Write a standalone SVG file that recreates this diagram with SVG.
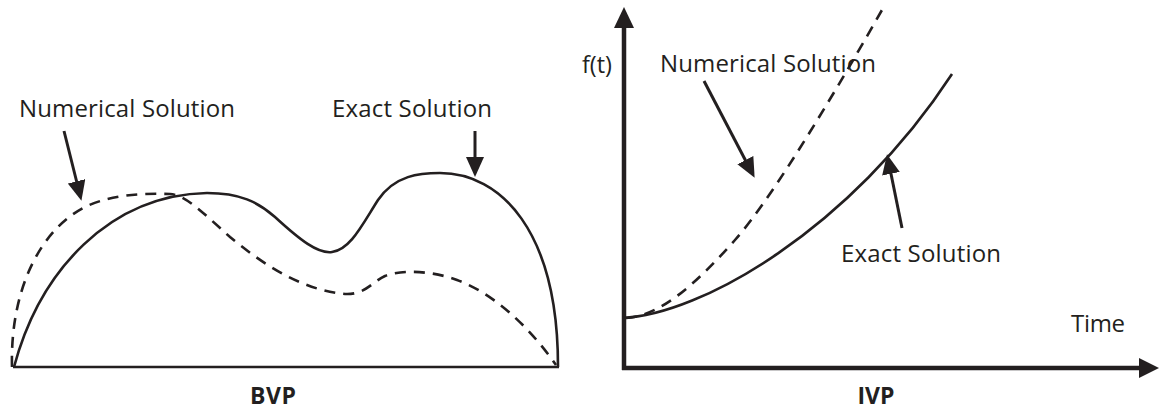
<svg xmlns="http://www.w3.org/2000/svg" width="1159" height="412" viewBox="0 0 1159 412">
<style>
.t{font-family:"Open Sans","Liberation Sans",sans-serif;font-size:24px;fill:#231f20}
.b{font-family:"Open Sans","Liberation Sans",sans-serif;font-size:23px;font-weight:bold;fill:#231f20}
.solid{fill:none;stroke:#231f20;stroke-width:2.6}
.dash{fill:none;stroke:#231f20;stroke-width:2.6;stroke-dasharray:11 8}
.arr{fill:none;stroke:#231f20;stroke-width:3}
.axis{fill:none;stroke:#231f20;stroke-width:4.5}
</style>
<defs>
<marker id="ah" markerUnits="userSpaceOnUse" markerWidth="20" markerHeight="18" viewBox="0 0 20 18" refX="10" refY="9" orient="auto">
<path d="M0,0 L20,9 L0,18 Z" fill="#231f20"/>
</marker>
</defs>
<rect width="1159" height="412" fill="#ffffff"/>
<g id="bvp-panel">
<line x1="13" y1="367" x2="559" y2="367" class="solid"/>
<g id="bvp-exact-curve"><path class="solid" d="M14,367 C40,270 110,195 207,193 C240,193 258,202 275,217 C300,240 318,254 332,252 C350,250 362,225 378,200 C395,175 420,173 440,173 C500,173 558,230 558,367"/></g>
<g id="bvp-numerical-curve"><path class="dash" d="M12,367 C10,290 40,230 85,207 C110,195 140,193 170,194 C185,195 200,210 230,237 C260,262 300,290 345,294 C365,295 372,282 385,276 C400,270 430,270 457,280 C500,296 535,335 556,365"/></g>
<text class="b" x="273" y="404" text-anchor="middle" textLength="46">BVP</text>
</g>
<g id="ivp-panel">
<line x1="624" y1="370" x2="624" y2="24" class="axis"/>
<polygon points="624,7 614,28 634,28" fill="#231f20"/>
<line x1="622" y1="368" x2="1142" y2="368" class="axis"/>
<polygon points="1159,368 1139,358 1139,378" fill="#231f20"/>
<g id="ivp-numerical-curve"><path class="dash" d="M626,318 C660,316 695,285 735,240 C775,195 845,75 882,10"/></g>
<g id="ivp-exact-curve"><path class="solid" d="M622,318 C700,315 850,230 952,74"/></g>
<text class="t" x="582" y="73" textLength="30" lengthAdjust="spacingAndGlyphs">f(t)</text>
<text class="t" x="1071" y="332" textLength="54">Time</text>
<text class="b" x="876" y="404" text-anchor="middle" textLength="37">IVP</text>
</g>
<g id="label-bvp-numerical"><text class="t" x="19" y="117" textLength="216">Numerical Solution</text></g>
<g id="label-bvp-exact"><text class="t" x="332" y="117" textLength="160">Exact Solution</text></g>
<g id="label-ivp-numerical"><text class="t" x="660" y="72" textLength="216">Numerical Solution</text></g>
<g id="label-ivp-exact"><text class="t" x="841" y="262" textLength="160">Exact Solution</text></g>
<g id="connectors">
<line class="arr" x1="64" y1="131" x2="79" y2="191" marker-end="url(#ah)"/>
<line class="arr" x1="475" y1="131" x2="475" y2="167" marker-end="url(#ah)"/>
<line class="arr" x1="704" y1="81" x2="750" y2="169" marker-end="url(#ah)"/>
<line class="arr" x1="902" y1="228" x2="889" y2="164" marker-end="url(#ah)"/>
</g>
</svg>
